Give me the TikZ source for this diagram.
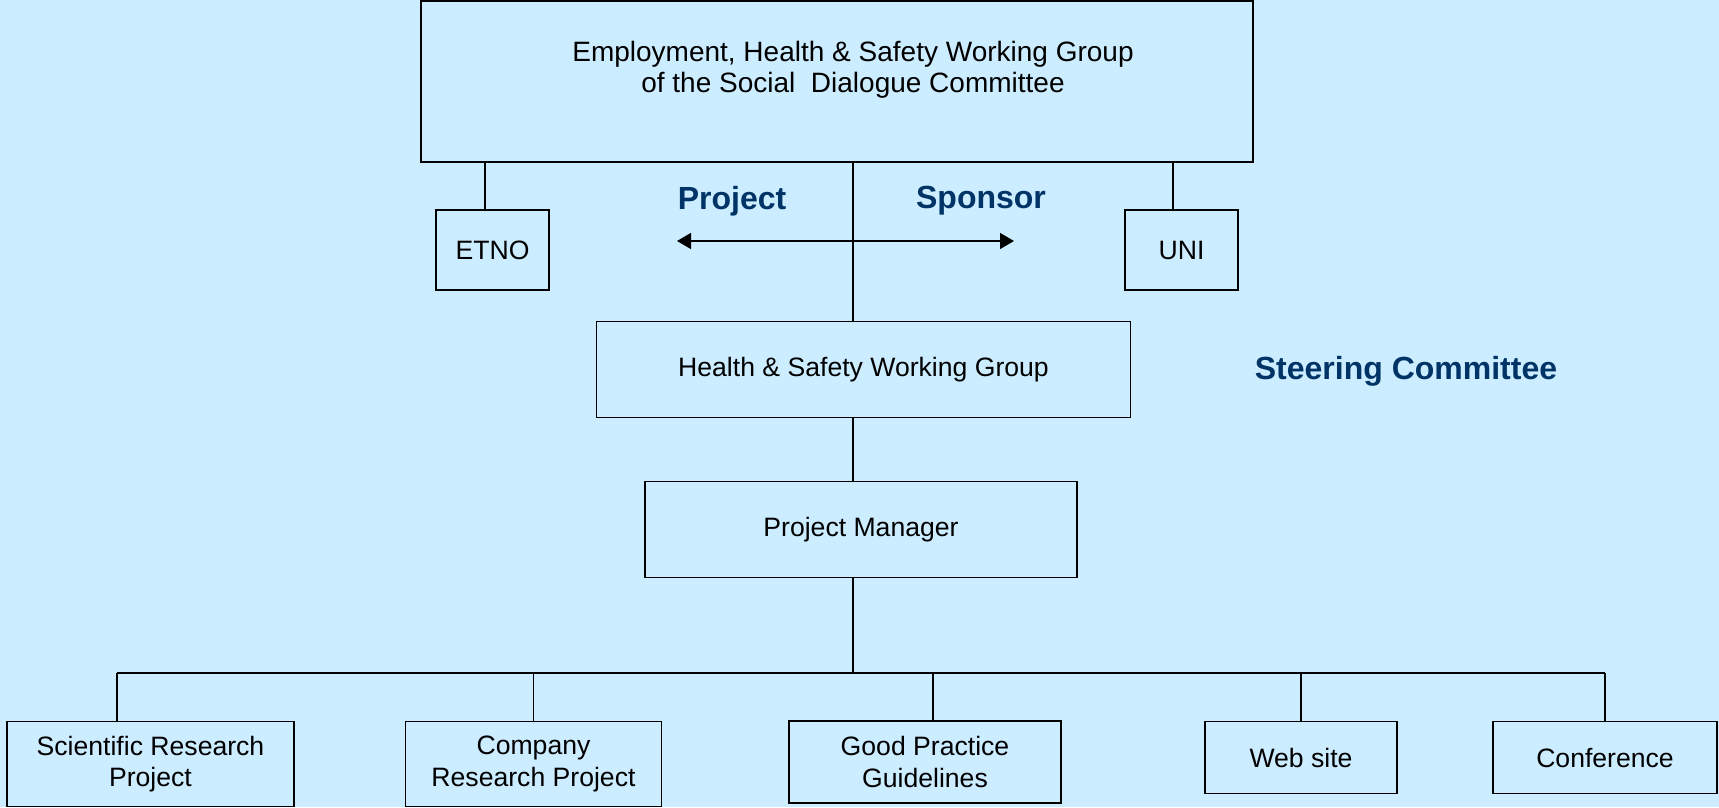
\documentclass[tikz,border=0pt]{standalone}
\usepackage{fontspec}
\setmainfont{Liberation Sans}
\usetikzlibrary{arrows.meta}
\definecolor{bgblue}{HTML}{CCECFF}
\definecolor{titleblue}{HTML}{003366}
\tikzset{
  orgbox/.style={draw=black, line width=1.5pt, fill=bgblue, inner sep=0pt, align=center,
    font=\fontsize{26.6}{31.5}\selectfont},
  conn/.style={draw=black, line width=1.3pt},
  boldlabel/.style={inner sep=0pt, text=titleblue, font=\fontsize{32}{36}\selectfont\bfseries},
  plaintext/.style={inner sep=0pt, align=center, font=\fontsize{28}{31.5}\selectfont}
}
\begin{document}
\begin{tikzpicture}[x=1pt,y=-1pt]
\fill[bgblue] (0,0) rectangle (1719,807);
\useasboundingbox (0,0) rectangle (1719,807);

% boxes
\node[orgbox, minimum width=832pt, minimum height=161pt] (top) at (837,81.5) {};
\node[plaintext] (toptext) at (853,70) {Employment, Health \& Safety Working Group\\of the Social\ \ Dialogue Committee};
\node[orgbox, minimum width=113pt, minimum height=80pt] (etno) at (492.5,250) {ETNO};
\node[orgbox, minimum width=113pt, minimum height=80pt] (uni) at (1181.5,250) {UNI};
\node[orgbox, minimum width=534pt, minimum height=96pt] (hswg) at (863.5,369.5) {Health \& Safety Working Group};
\node[orgbox, minimum width=432pt, minimum height=96pt] (pm) at (861,529.5) {Project Manager};
\node[orgbox, minimum width=287pt, minimum height=85pt] (sci) at (150.5,764) {Scientific Research\\Project};
\node[orgbox, minimum width=256pt, minimum height=85pt] (comp) at (533.5,764) {Company\\Research Project};
\node[orgbox, minimum width=272pt, minimum height=82pt] (good) at (925,762) {Good Practice\\Guidelines};
\node[orgbox, minimum width=192pt, minimum height=72pt] (web) at (1301,757.5) {Web site};
\node[orgbox, minimum width=224pt, minimum height=72pt] (conf) at (1605,757.5) {Conference};

% labels
\node[boldlabel] (proj) at (732,201) {Project};
\node[boldlabel] (spon) at (981,201) {Sponsor};
\node[boldlabel] (steer) at (1406,371) {Steering Committee};

% connectors
\draw[conn] (top.south -| 485,0) -- (etno.north -| 485,0);
\draw[conn] (top.south -| 1173,0) -- (uni.north -| 1173,0);
\draw[conn] (top.south -| 853,0) -- (hswg.north -| 853,0);
\draw[conn] (hswg.south -| 853,0) -- (pm.north -| 853,0);
\coordinate (bus) at (853,673);
\coordinate (busl) at (117,673);
\coordinate (busr) at (1605,673);
\draw[conn] (pm.south -| bus) -- (bus);
\draw[conn] (busl) -- (busr);
\draw[conn] (busl) -- (sci.north -| busl);
\draw[conn] (comp |- bus) -- (comp.north);
\draw[conn] (933,673) -- (good.north -| 933,0);
\draw[conn] (web |- bus) -- (web.north);
\draw[conn] (busr) -- (conf.north);

% arrow
\coordinate (al) at (677,241);
\coordinate (ar) at (1014,241);
\draw[conn, {Triangle[length=14pt,width=16pt]}-{Triangle[length=14pt,width=16pt]}] (al) -- (ar);
\end{tikzpicture}
\end{document}
